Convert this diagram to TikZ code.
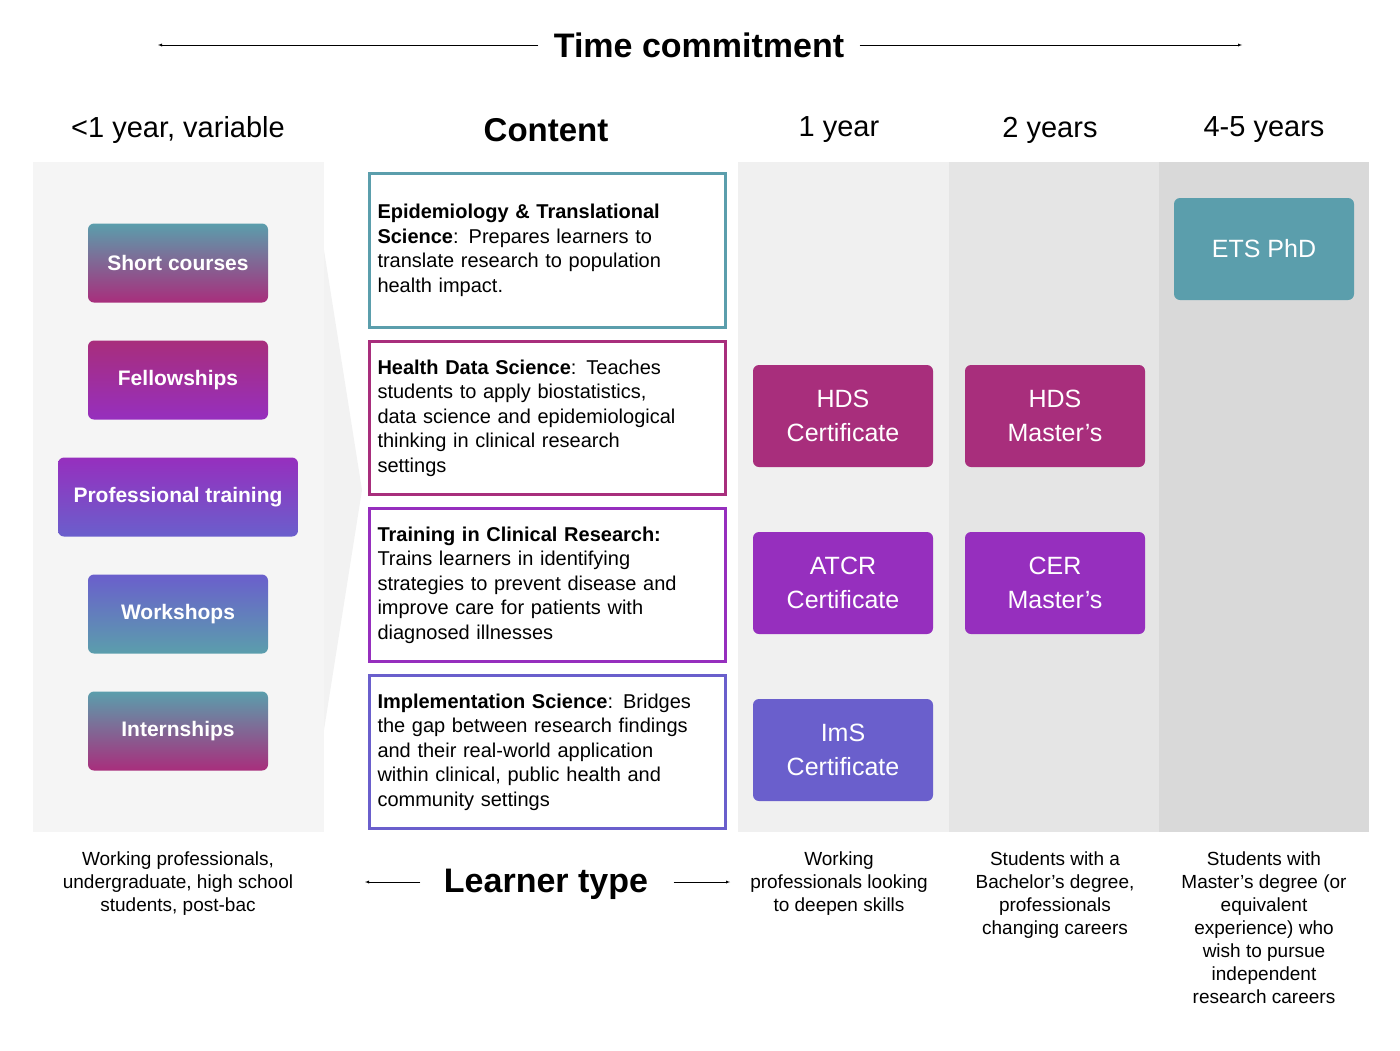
\documentclass[tikz,border=0pt]{standalone}
\usepackage{fontspec}
\setmainfont{Liberation Sans}
\usetikzlibrary{backgrounds}
\definecolor{tealc}{HTML}{5B9EAC}
\definecolor{mag}{HTML}{A82E7C}
\definecolor{purp}{HTML}{962FBE}
\definecolor{bpurp}{HTML}{6A5FCC}
\tikzset{>=latex}
\tikzset{
  prog/.style = {rounded corners=6pt, text=white, align=center, font=\fontsize{25}{34}\selectfont, minimum width=180pt, minimum height=102pt, inner sep=0pt},
  short/.style = {rounded corners=6pt, text=white, font=\bfseries\fontsize{21}{25}\selectfont, minimum height=79pt, minimum width=180pt, inner sep=0pt},
  content/.style = {draw, line width=3pt, anchor=north west, minimum width=356pt, align=left, font=\fontsize{20}{24.5}\selectfont, text=black, inner sep=0pt},
  learner/.style = {align=center, font=\fontsize{19}{23}\selectfont},
  header/.style = {font=\fontsize{29}{34}\selectfont}
}
\begin{document}
\begin{tikzpicture}[x=1pt,y=-1pt]
  \useasboundingbox (0,0) rectangle (1400,1050);
  % backgrounds
  \fill[gray!8]  (33,162) rectangle (324,832);
  \fill[gray!10] (324,250) -- (362,490) -- (324,730) -- cycle;
  \fill[gray!12] (738,162) rectangle (949,832);
  \fill[gray!20] (949,162) rectangle (1159,832);
  \fill[gray!30] (1159,162) rectangle (1369,832);
  % time commitment
  \node[font=\bfseries\fontsize{34}{40}\selectfont] (time) at (699,45) {Time commitment};
  \coordinate (tl) at (158,45);
  \coordinate (tr) at (1242,45);
  \draw[->] (time.west) ++(-12,0) -- (tl);
  \draw[->] (time.east) ++(12,0) -- (tr);
  % headers
  \node[header] (h0) at (178,130) {<1 year, variable};
  \node[header, font=\bfseries\fontsize{33}{40}\selectfont] (hc) at (546,130) {Content};
  \node[header] (h1) at (839,130) {1 year};
  \node[header] (h2) at (1050,130) {2 years};
  \node[header] (h3) at (1264,130) {4-5 years};
  % short programs
  \node[short, top color=tealc, bottom color=mag] (sc) at (178,263) {Short courses};
  \node[short, top color=mag, bottom color=purp] (fe) at (178,380) {Fellowships};
  \node[short, top color=purp, bottom color=bpurp, minimum width=240pt] (pt) at (178,497) {Professional training};
  \node[short, top color=bpurp, bottom color=tealc] (ws) at (178,614) {Workshops};
  \node[short, top color=tealc, bottom color=mag] (in) at (178,731) {Internships};
  % content
  \node[content, draw=tealc, minimum height=154pt, text width=340pt, inner xsep=8pt] (ets) at (368,172)
    {\textbf{Epidemiology \& Translational}\\\textbf{Science}: Prepares learners to\\translate research to population\\health impact.};
  \node[content, draw=mag, minimum height=153pt, text width=340pt, inner xsep=8pt] (hds) at (368,340)
    {\textbf{Health Data Science}: Teaches\\students to apply biostatistics,\\data science and epidemiological\\thinking in clinical research\\settings};
  \node[content, draw=purp, minimum height=153pt, text width=340pt, inner xsep=8pt] (tcr) at (368,507)
    {\textbf{Training in Clinical Research:}\\Trains learners in identifying\\strategies to prevent disease and\\improve care for patients with\\diagnosed illnesses};
  \node[content, draw=bpurp, minimum height=153pt, text width=340pt, inner xsep=8pt] (ims) at (368,674)
    {\textbf{Implementation Science}: Bridges\\the gap between research findings\\and their real-world application\\within clinical, public health and\\community settings};
  % programs
  \node[prog, fill=tealc] (phd) at (1264,249) {ETS PhD};
  \node[prog, fill=mag] (hdsc) at (843,416) {HDS\\Certificate};
  \node[prog, fill=mag] (hdsm) at (1055,416) {HDS\\Master’s};
  \node[prog, fill=purp] (atcr) at (843,583) {ATCR\\Certificate};
  \node[prog, fill=purp] (cer) at (1055,583) {CER\\Master’s};
  \node[prog, fill=bpurp] (imsc) at (843,750) {ImS\\Certificate};
  % learner type
  \node[font=\bfseries\fontsize{34}{40}\selectfont] (lt) at (546,884) {Learner type};
  \coordinate (ll) at (365,882);
  \coordinate (lr) at (730,882);
  \draw[->] (lt.west) ++(-20,-2) -- (ll);
  \draw[->] (lt.east) ++(22,-2) -- (lr);
  \node[learner, anchor=north] (l0) at (178,848) {Working professionals,\\undergraduate, high school\\students, post-bac};
  \node[learner, anchor=north] (l1) at (839,848) {Working\\professionals looking\\to deepen skills};
  \node[learner, anchor=north] (l2) at (1055,848) {Students with a\\Bachelor’s degree,\\professionals\\changing careers};
  \node[learner, anchor=north] (l3) at (1264,848) {Students with\\Master’s degree (or\\equivalent\\experience) who\\wish to pursue\\independent\\research careers};
\end{tikzpicture}
\end{document}
